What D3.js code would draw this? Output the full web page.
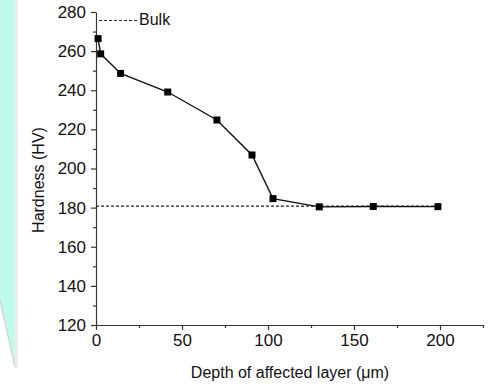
<!DOCTYPE html>
<html>
<head>
<meta charset="utf-8">
<script src="https://cdn.jsdelivr.net/npm/d3@7"></script>
<style>
  body { margin: 0; background: #fff; }
  svg { display: block; font-family: Arial, "Liberation Sans", sans-serif; }
</style>
</head>
<body>
<script>
// data
const depth = [1.2, 2.7, 14.3, 41.7, 70.3, 90.7, 102.9, 129.8, 161.2, 198.8]
const hardness = [266.4, 258.6, 248.6, 239.1, 224.8, 206.9, 184.6, 180.4, 180.6, 180.5]
const bulkDepth = [0, 200.5]
const bulkValue = 180.8
const xTicks = [0, 50, 100, 150, 200]
const xMinor = [25, 75, 125, 175, 225]
const yTicks = [120, 140, 160, 180, 200, 220, 240, 260, 280]
const yMinor = [130, 150, 170, 190, 210, 230, 250, 270]

const width = 490, height = 389
const svg = d3.select('body').append('svg')
  .attr('width', width)
  .attr('height', height)

// cyan slide decoration on the left
svg.append('polygon')
  .attr('points', '15,0 18,0 18,368 15,368')
  .style('fill', '#ededed')
svg.append('polygon')
  .attr('points', '0,0 15,0 15,367 0,300')
  .style('fill', '#bffbeb')
svg.append('line')
  .attr('x1', 0).attr('y1', 300).attr('x2', 15).attr('y2', 367)
  .style('stroke', '#d6d6d6')
  .style('stroke-width', 1.5)

const x = d3.scaleLinear().domain([0, 225]).range([96, 483])
const y = d3.scaleLinear().domain([120, 280]).range([325, 12])

svg.append('g')
  .attr('transform', `translate(0,${y(120)})`)
  .call(d3.axisBottom(x).tickValues(xTicks).tickSize(5).tickPadding(4).tickSizeOuter(0))
svg.append('g')
  .attr('transform', `translate(0,${y(120)})`)
  .call(d3.axisBottom(x).tickValues(xMinor).tickSize(3).tickFormat('').tickSizeOuter(0))
  .call(g => g.select('.domain').remove())

svg.append('g')
  .attr('transform', `translate(${x(0)},0)`)
  .call(d3.axisLeft(y).tickValues(yTicks).tickSize(5).tickPadding(5).tickSizeOuter(0))
svg.append('g')
  .attr('transform', `translate(${x(0)},0)`)
  .call(d3.axisLeft(y).tickValues(yMinor).tickSize(3).tickFormat('').tickSizeOuter(0))
  .call(g => g.select('.domain').remove())

svg.selectAll('.tick text')
  .style('font-size', '17px')
  .style('fill', '#111')
  .style('font-family', 'Arial, "Liberation Sans", sans-serif')
svg.selectAll('.domain, .tick line')
  .style('stroke', '#333')
  .style('stroke-width', 1.2)

// bulk reference line
svg.append('line')
  .attr('x1', x(bulkDepth[0])).attr('x2', x(bulkDepth[1]))
  .attr('y1', y(bulkValue)).attr('y2', y(bulkValue))
  .style('stroke', '#222')
  .style('stroke-width', 1.2)
  .style('stroke-dasharray', '3,2')

const pts = depth.map((d, i) => [d, hardness[i]])

svg.append('path')
  .datum(pts)
  .attr('d', d3.line().x(d => x(d[0])).y(d => y(d[1])))
  .style('fill', 'none')
  .style('stroke', '#111')
  .style('stroke-width', 1.4)

svg.selectAll('rect.pt').data(pts).enter().append('rect')
  .attr('class', 'pt')
  .attr('x', d => x(d[0]) - 3.5)
  .attr('y', d => y(d[1]) - 3.5)
  .attr('width', 7)
  .attr('height', 7)
  .style('fill', '#000')

// legend
svg.append('line')
  .attr('x1', 99).attr('x2', 137)
  .attr('y1', 20.5).attr('y2', 20.5)
  .style('stroke', '#222')
  .style('stroke-width', 1.2)
  .style('stroke-dasharray', '3,2')
svg.append('text')
  .attr('x', 139).attr('y', 24.5)
  .style('font-size', '16px')
  .style('fill', '#111')
  .text('Bulk')

// axis titles
svg.append('text')
  .attr('transform', `translate(44,180) rotate(-90)`)
  .attr('text-anchor', 'middle')
  .style('font-size', '16px')
  .style('fill', '#111')
  .text('Hardness (HV)')

svg.append('text')
  .attr('x', 290).attr('y', 378)
  .attr('text-anchor', 'middle')
  .style('font-size', '16px')
  .style('fill', '#111')
  .text('Depth of affected layer (\u03bcm)')
</script>
</body>
</html>
